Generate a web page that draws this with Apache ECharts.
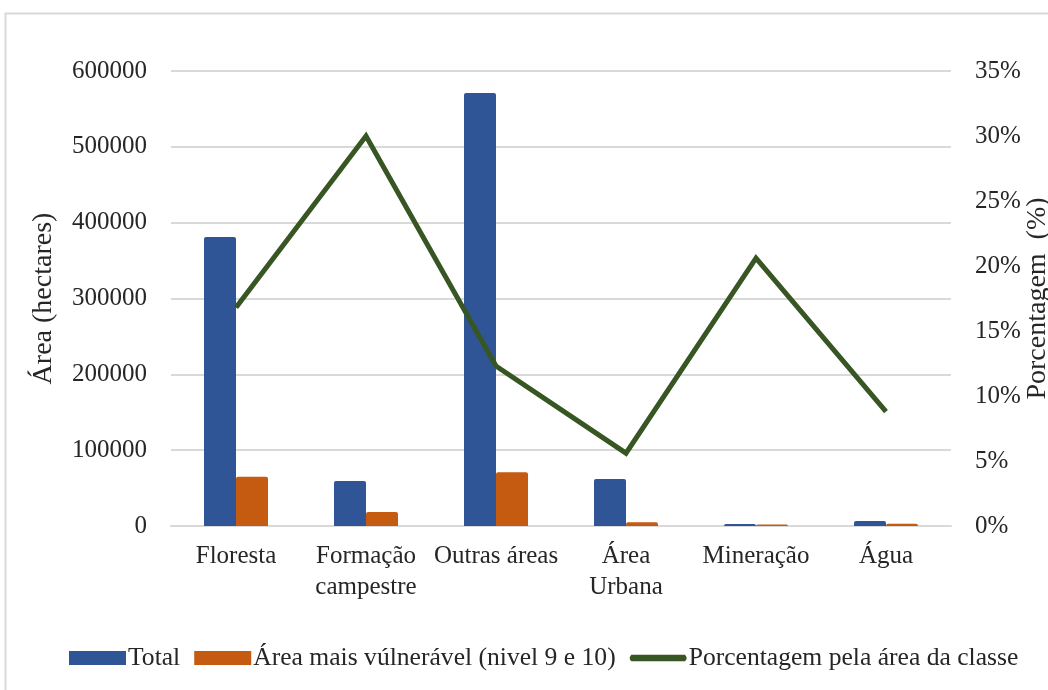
<!DOCTYPE html>
<html>
<head>
<meta charset="utf-8">
<script src="https://cdn.jsdelivr.net/npm/echarts@6/dist/echarts.min.js"></script>
<style>
  html, body { margin: 0; padding: 0; background: #fff; }
  #chart { width: 1048px; height: 690px; }
</style>
</head>
<body>
<div id="chart"></div>
<script>
const categories = ["Floresta", "Formação\ncampestre", "Outras áreas", "Área\nUrbana", "Mineração", "Água"]
// Área (hectares)
const totalArea = [381000, 59500, 571000, 62000, 2500, 6500]
const vulnerableArea = [65000, 18500, 71000, 5000, 2000, 3000]
// Porcentagem pela área da classe (%)
const classPercent = [16.8, 30.0, 12.3, 5.6, 20.6, 8.8]

const font = "Liberation Serif, Times New Roman, serif"
const textColor = "#262626"
const gridColor = "#d9d9d9"
const labelSize = 25

const chart = echarts.init(document.getElementById("chart"))

chart.setOption({
    animation: false,
    textStyle: { fontFamily: font, color: textColor },
    graphic: [
        {
            type: "rect",
            shape: { x: 5.5, y: 13.5, width: 1100, height: 720 },
            style: { fill: "none", stroke: gridColor, lineWidth: 2 },
            silent: true,
        },
    ],
    grid: {
        left: 171,
        right: 97,
        top: 71,
        bottom: 164,
        outerBoundsMode: "none",
    },
    legend: {
        left: 64,
        top: 640,
        itemWidth: 57,
        itemHeight: 14,
        itemGap: 14,
        textStyle: { fontFamily: font, fontSize: 25.6, color: textColor, padding: [0, 0, 0, -3] },
        data: [
            { name: "Total", icon: "rect" },
            { name: "Área mais vúlnerável (nivel 9 e 10)", icon: "rect" },
            { name: "Porcentagem pela área da classe", icon: "path://M0,0 M0,3.5 L57,3.5 Q60.5,7 57,10.5 L0,10.5 Q-3.5,7 0,3.5 Z M57,14" },
        ],
    },
    xAxis: {
        type: "category",
        data: categories,
        axisTick: { show: false },
        axisLine: { lineStyle: { color: gridColor, width: 2 } },
        axisLabel: {
            margin: 15,
            fontFamily: font,
            fontSize: labelSize,
            lineHeight: 31,
            color: textColor,
            interval: 0,
        },
    },
    yAxis: [
        {
            type: "value",
            min: 0,
            max: 600000,
            interval: 100000,
            name: "Área (hectares)",
            nameLocation: "middle",
            nameRotate: 90,
            nameGap: 113,
            nameMoveOverlap: false,
            nameTextStyle: { fontFamily: font, fontSize: 28, color: textColor },
            axisLine: { show: false },
            axisTick: { show: false },
            axisLabel: {
                margin: 24,
                fontFamily: font,
                fontSize: labelSize,
                color: textColor,
                formatter: value => String(value),
            },
            splitLine: { lineStyle: { color: gridColor, width: 2 } },
        },
        {
            type: "value",
            min: 0,
            max: 35,
            interval: 5,
            name: "Porcentagem  (%)",
            nameLocation: "middle",
            nameRotate: 90,
            nameGap: 73,
            nameMoveOverlap: false,
            nameTextStyle: { fontFamily: font, fontSize: 28, color: textColor },
            axisLine: { show: false },
            axisTick: { show: false },
            axisLabel: {
                margin: 24,
                fontFamily: font,
                fontSize: labelSize,
                color: textColor,
                formatter: "{value}%",
            },
            splitLine: { show: false },
        },
    ],
    series: [
        {
            name: "Total",
            type: "bar",
            data: totalArea,
            barWidth: 32,
            barGap: "0%",
            itemStyle: { color: "#2f5597", borderRadius: [2, 2, 0, 0] },
        },
        {
            name: "Área mais vúlnerável (nivel 9 e 10)",
            type: "bar",
            data: vulnerableArea,
            barWidth: 32,
            barGap: "0%",
            itemStyle: { color: "#c55a11", borderRadius: [2, 2, 0, 0] },
        },
        {
            name: "Porcentagem pela área da classe",
            type: "line",
            yAxisIndex: 1,
            data: classPercent,
            showSymbol: false,
            symbol: "none",
            lineStyle: { color: "#375623", width: 5, join: "miter" },
            itemStyle: { color: "#375623" },
        },
    ],
})
</script>
</body>
</html>
